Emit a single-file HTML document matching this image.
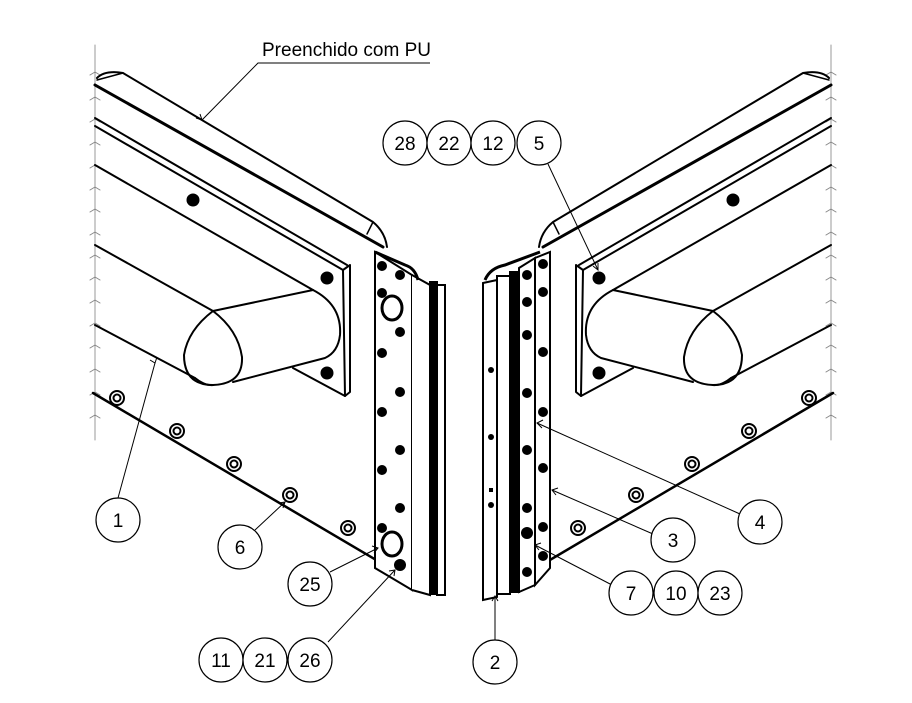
<!DOCTYPE html>
<html><head><style>
html,body{margin:0;padding:0;background:#fff;}
svg{display:block;}
text{font-family:"Liberation Sans",sans-serif;font-size:19px;fill:#000;}
</style></head><body>
<svg width="912" height="703" viewBox="0 0 912 703" xmlns="http://www.w3.org/2000/svg">
<defs>
<g id="side" fill="none" stroke="#000" stroke-linecap="round" stroke-linejoin="round">
  <!-- break line -->
  <line x1="95" y1="45" x2="95" y2="440" stroke="#999" stroke-width="1"/>
  <path d="M90,75 l5,-3 l5,3 M90,100 l5,-3 l5,3 M90,122 l5,-3 l5,3 M90,145 l5,-3 l5,3 M90,168 l5,-3 l5,3 M90,190 l5,-3 l5,3 M90,212 l5,-3 l5,3 M90,235 l5,-3 l5,3 M90,258 l5,-3 l5,3 M90,280 l5,-3 l5,3 M90,303 l5,-3 l5,3 M90,326 l5,-3 l5,3 M90,348 l5,-3 l5,3 M90,372 l5,-3 l5,3 M90,395 l5,-3 l5,3 M90,418 l5,-3 l5,3" stroke="#888" stroke-width="1"/>
  <!-- top rail -->
  <path d="M97,78 Q105,70 123,73 L373,222 Q385,232 387,247" stroke-width="2"/>
  <line x1="95" y1="85" x2="383" y2="247" stroke-width="3"/>
  <line x1="123" y1="73" x2="97" y2="80" stroke-width="1.5"/>
  <line x1="373" y1="222" x2="367" y2="234" stroke-width="1.5"/>
  <!-- plate lines -->
  <line x1="95" y1="118" x2="347" y2="265" stroke-width="2"/>
  <line x1="95" y1="126" x2="343" y2="270" stroke-width="2"/>
  <path d="M343,270 L350,265 L350,392 L345,396 Z" stroke-width="2"/>
  <line x1="345" y1="396" x2="293" y2="368" stroke-width="2"/>
  <line x1="95" y1="165" x2="313" y2="290" stroke-width="2"/>
  <circle cx="193" cy="200" r="6" fill="#000"/>
  <circle cx="327" cy="278" r="6" fill="#000"/>
  <circle cx="327" cy="373" r="6" fill="#000"/>
  <!-- bumper -->
  <line x1="95" y1="245" x2="213" y2="311" stroke-width="2"/>
  <line x1="213" y1="311" x2="313" y2="290" stroke-width="2"/>
  <path d="M313,290 Q342,305 340,335 Q338,352 325,358 L233,382" stroke-width="2"/>
  <path d="M213,311 Q188,330 184,355 Q184,385 213,385 Q243,384 242,357 Q238,330 213,311 Z" stroke-width="2" fill="#fff"/>
  <line x1="95" y1="325" x2="195" y2="378" stroke-width="2"/>
  <path d="M195,378 Q205,386 213,385" stroke-width="2"/>
  <!-- bottom edge -->
  <line x1="93" y1="393" x2="410" y2="580" stroke-width="2.5"/>
  <g stroke-width="2">
   <circle cx="117" cy="398" r="7"/><circle cx="117" cy="398" r="3.5"/>
   <circle cx="177" cy="431" r="7"/><circle cx="177" cy="431" r="3.5"/>
   <circle cx="234" cy="464" r="7"/><circle cx="234" cy="464" r="3.5"/>
   <circle cx="290" cy="495" r="7"/><circle cx="290" cy="495" r="3.5"/>
   <circle cx="348" cy="528" r="7"/><circle cx="348" cy="528" r="3.5"/>
  </g>
</g>
</defs>

<use href="#side"/>
<use href="#side" transform="translate(926,0) scale(-1,1)"/>

<!-- left strip -->
<g fill="none" stroke="#000" stroke-width="2">
  <path d="M375,252 L412,275 L412,590 L375,568 Z" fill="#fff"/>
  <path d="M412,275 L430,285 L430,595 L412,590" fill="#fff"/>
  <rect x="430" y="282" width="7" height="312" fill="#000"/>
  <rect x="437" y="285" width="8" height="310" fill="#fff"/>
  <path d="M375,252 L405,265 Q415,268 418,280" stroke-width="3"/>
</g>
<g fill="#000">
  <circle cx="382" cy="266" r="5"/><circle cx="400" cy="275" r="5"/>
  <circle cx="382" cy="293" r="5"/><circle cx="400" cy="332" r="5"/>
  <circle cx="382" cy="353" r="5"/><circle cx="400" cy="392" r="5"/>
  <circle cx="382" cy="412" r="5"/><circle cx="400" cy="450" r="5"/>
  <circle cx="382" cy="470" r="5"/><circle cx="400" cy="508" r="5"/>
  <circle cx="382" cy="528" r="5"/><circle cx="400" cy="565" r="6"/>
</g>
<g fill="#fff" stroke="#000" stroke-width="3">
  <ellipse cx="392" cy="308" rx="10" ry="12"/>
  <ellipse cx="392" cy="544" rx="10" ry="12"/>
</g>

<!-- right strip -->
<g fill="none" stroke="#000" stroke-width="2">
  <path d="M483,283 L497,280 L497,597 L483,600 Z" fill="#fff"/>
  <rect x="497" y="276" width="13" height="318" fill="#fff"/>
  <rect x="510" y="272" width="9" height="320" fill="#000"/>
  <path d="M519,268 L535,258 L535,585 L519,592 Z" fill="#fff"/>
  <path d="M535,258 L550,252 L550,568 L535,585 Z" fill="#fff"/>
  <path d="M485,280 Q490,268 505,265 L540,252" stroke-width="3"/>
</g>
<g fill="#000">
  <circle cx="491" cy="370" r="3"/><circle cx="491" cy="437" r="3"/><circle cx="491" cy="505" r="3"/>
  <rect x="489" y="488" width="4" height="4"/>
  <circle cx="527" cy="275" r="5"/><circle cx="543" cy="264" r="5"/>
  <circle cx="527" cy="302" r="5"/><circle cx="543" cy="292" r="5"/>
  <circle cx="527" cy="335" r="5"/><circle cx="543" cy="352" r="5"/>
  <circle cx="527" cy="393" r="5"/><circle cx="543" cy="412" r="5"/>
  <circle cx="527" cy="450" r="5"/><circle cx="543" cy="468" r="5"/>
  <circle cx="527" cy="508" r="5"/><circle cx="543" cy="527" r="5"/>
  <circle cx="527" cy="533" r="6"/><circle cx="543" cy="556" r="5"/>
  <circle cx="527" cy="572" r="5"/>
</g>

<!-- label & leaders -->
<text x="262" y="56">Preenchido com PU</text>
<g stroke="#000" stroke-width="1" fill="none">
  <polyline points="430,63 258,63 202,120"/>
  <line x1="118" y1="498" x2="155" y2="363"/>
  <line x1="255" y1="530" x2="285" y2="502"/>
  <line x1="330" y1="572" x2="378" y2="548"/>
  <line x1="328" y1="642" x2="395" y2="570"/>
  <line x1="495" y1="640" x2="495" y2="596"/>
  <line x1="548" y1="164" x2="598" y2="270"/>
  <line x1="740" y1="514" x2="537" y2="423"/>
  <line x1="653" y1="534" x2="552" y2="490"/>
  <line x1="612" y1="585" x2="535" y2="545"/>
</g>
<g stroke="#000" stroke-width="1" fill="none">
  <path d="M200,114 L202,120 L196,118"/>
  <path d="M150,360 L155,363 L157,357"/>
  <path d="M279,503 L285,502 L283,508"/>
  <path d="M372,546 L378,548 L374,553"/>
  <path d="M389,571 L395,570 L394,576"/>
  <path d="M492,601 L495,596 L498,601"/>
  <path d="M593,266 L598,270 L598,263"/>
  <path d="M543,420 L537,423 L542,428"/>
  <path d="M558,488 L552,490 L556,495"/>
  <path d="M541,543 L535,545 L539,550"/>
</g>

<g fill="#fff" stroke="#000" stroke-width="1.2">
  <circle cx="405" cy="143" r="22"/><circle cx="449" cy="143" r="22"/>
  <circle cx="493" cy="143" r="22"/><circle cx="539" cy="143" r="22"/>
  <circle cx="118" cy="520" r="22"/><circle cx="240" cy="547" r="22"/>
  <circle cx="310" cy="584" r="22"/>
  <circle cx="221" cy="660" r="22"/><circle cx="265" cy="660" r="22"/><circle cx="310" cy="660" r="22"/>
  <circle cx="495" cy="662" r="22"/>
  <circle cx="673" cy="540" r="22"/><circle cx="760" cy="522" r="22"/>
  <circle cx="631" cy="593" r="22"/><circle cx="676" cy="593" r="22"/><circle cx="720" cy="593" r="22"/>
</g>
<g text-anchor="middle">
  <text x="405" y="150">28</text><text x="449" y="150">22</text>
  <text x="493" y="150">12</text><text x="539" y="150">5</text>
  <text x="118" y="527">1</text><text x="240" y="554">6</text>
  <text x="310" y="591">25</text>
  <text x="221" y="667">11</text><text x="265" y="667">21</text><text x="310" y="667">26</text>
  <text x="495" y="669">2</text>
  <text x="673" y="547">3</text><text x="760" y="529">4</text>
  <text x="631" y="600">7</text><text x="676" y="600">10</text><text x="720" y="600">23</text>
</g>
</svg>
</body></html>
